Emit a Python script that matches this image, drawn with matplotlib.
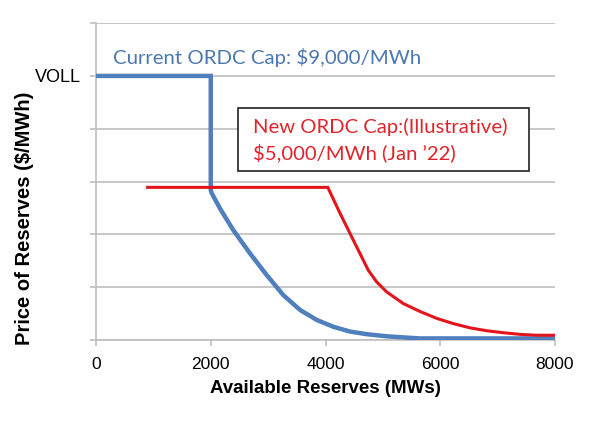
import matplotlib.pyplot as plt
from matplotlib.patches import Rectangle

# current ORDC (blue); y in grid units (VOLL = 5)
blue_x = [0, 2000, 2000, 2017, 2161, 2393, 2684, 2975, 3265, 3556, 3847, 4137, 4427, 4718,
          5067, 5647, 8000]
blue_y = [5, 5, 2.84, 2.78, 2.49, 2.08, 1.64, 1.23, 0.85, 0.57, 0.38, 0.25, 0.16, 0.11,
          0.07, 0.03, 0.03]

# new ORDC (red)
red_x = [900, 4040, 4253, 4485, 4659, 4746, 4892, 5067, 5356, 5647, 5938, 6229, 6519,
         6810, 7099, 7390, 7681, 8000]
red_y = [2.89, 2.89, 2.40, 1.89, 1.51, 1.32, 1.10, 0.91, 0.69, 0.54, 0.41, 0.31, 0.23,
         0.175, 0.138, 0.107, 0.09, 0.09]

x_ticks = [0, 2000, 4000, 6000, 8000]
y_grid = [0, 1, 2, 3, 4, 5, 6]
y_labels = ["", "", "", "", "", "VOLL", ""]

arial = ["Liberation Sans", "DejaVu Sans"]
note = ["Lato", "DejaVu Sans"]


def main():
    fig = plt.figure(figsize=(6, 4.28), dpi=100)
    ax = fig.add_axes([0.16, 0.2056, 0.765, 0.7404])

    ax.plot(blue_x, blue_y, color="#4f7fbd", lw=3.2, solid_joinstyle="miter", zorder=3)
    ax.plot(red_x, red_y, color="#e3141b", lw=2.2, solid_joinstyle="miter", zorder=3)

    ax.set_xlim(0, 8000)
    ax.set_ylim(0, 6)
    ax.set_xticks(x_ticks)
    ax.set_yticks(y_grid)
    ax.set_yticklabels(y_labels, family=arial, fontsize=13)
    ax.set_xticklabels([str(t) for t in x_ticks], family=arial, fontsize=12.5)
    ax.grid(axis="y", color="#bfbfbf", lw=1.2)
    ax.set_axisbelow(True)
    for s in ["top", "right"]:
        ax.spines[s].set_visible(False)
    for s in ["left", "bottom"]:
        ax.spines[s].set_color("#bfbfbf")
        ax.spines[s].set_linewidth(1.2)
    ax.tick_params(axis="both", length=4, color="#bfbfbf", width=1.2)
    ax.tick_params(axis="x", pad=8)
    ax.tick_params(axis="y", pad=7)

    ax.set_xlabel("Available Reserves (MWs)", family=arial, fontsize=13.5,
                  fontweight="bold")
    ax.xaxis.set_label_coords(0.5, -0.125)
    ax.set_ylabel("Price of Reserves ($/MWh)", family=arial, fontsize=14.5,
                  fontweight="bold")
    ax.yaxis.set_label_coords(-0.135, 0.385)

    ax.text(300, 5.35, "Current ORDC Cap: $9,000/MWh", color="#4a78b0",
            family=note, fontsize=14.7, va="center", ha="left")

    ax.add_patch(Rectangle((2475, 3.2), 5070, 1.2, facecolor="white",
                           edgecolor="#222222", lw=1.2, zorder=4))
    ax.text(2740, 4.03, "New ORDC Cap:(Illustrative)", color="#e0242a",
            family=note, fontsize=14.6, va="center", ha="left", zorder=5)
    ax.text(2740, 3.55, "$5,000/MWh (Jan \u201922)", color="#e0242a",
            family=note, fontsize=14.6, va="center", ha="left", zorder=5)

    fig.savefig("out.png", dpi=100)


if __name__ == "__main__":
    main()
